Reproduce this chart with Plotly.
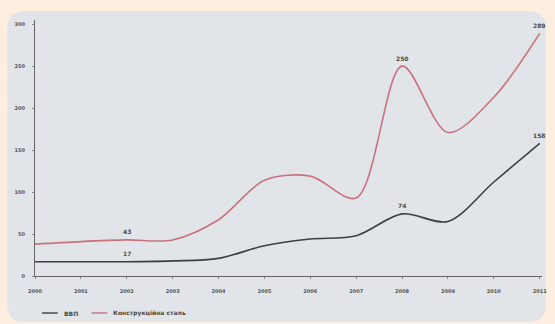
import plotly.graph_objects as go

years = [2000, 2001, 2002, 2003, 2004, 2005, 2006, 2007, 2008, 2009, 2010, 2011]
gdp = [17, 17, 17, 18, 21, 36, 44, 48, 74, 65, 112, 158]
steel = [38, 41, 43, 43, 67, 114, 119, 93, 250, 171, 213, 289]
y_ticks = [0, 50, 100, 150, 200, 250, 300]
labels_years = [2002, 2008, 2011]
gdp_name = "ВВП"
steel_name = "Конструкційна сталь"
gdp_color = "#3b3f48"
steel_color = "#c9717e"

W, H = 555, 324
L, R, T, B = 35, 8, 20, 48
pw, ph = W - L - R, H - T - B

def px(x):
    return (x - L) / pw

def py(y):
    return (H - B - y) / ph

fig = go.Figure()
fig.add_trace(go.Scatter(x=years, y=gdp, mode="lines", name=gdp_name,
                         line=dict(color=gdp_color, width=1.6, shape="spline", smoothing=0.9)))
fig.add_trace(go.Scatter(x=years, y=steel, mode="lines", name=steel_name,
                         line=dict(color=steel_color, width=1.6, shape="spline", smoothing=0.9)))

font = dict(size=6, color="#4a4a4a", family="DejaVu Sans", weight="bold")
ann = []
for yr in labels_years:
    i = years.index(yr)
    for arr in (gdp, steel):
        ann.append(dict(x=yr, y=arr[i], text=str(arr[i]), showarrow=False,
                        yshift=8, font=font))

# manual legend (compact line symbols)
leg_y = 313
shapes = []
legend_items = [(gdp_name, gdp_color, 42, 58, 62), (steel_name, steel_color, 92, 108, 112)]
for name, col, xa, xb, xt in legend_items:
    shapes.append(dict(type="line", xref="paper", yref="paper", x0=px(xa), x1=px(xb),
                       y0=py(leg_y), y1=py(leg_y), line=dict(color=col, width=1.4)))
    ann.append(dict(xref="paper", yref="paper", x=px(xt), y=py(leg_y), text=name,
                    showarrow=False, xanchor="left", yanchor="middle", font=font))

# rounded panel
r = 18
x0, x1, y0, y1 = 7, 551, 11, 322
path = (f"M {px(x0)},{py(y0 + r)} Q {px(x0)},{py(y0)} {px(x0 + r)},{py(y0)} "
        f"L {px(x1 - r)},{py(y0)} Q {px(x1)},{py(y0)} {px(x1)},{py(y0 + r)} "
        f"L {px(x1)},{py(y1 - r)} Q {px(x1)},{py(y1)} {px(x1 - r)},{py(y1)} "
        f"L {px(x0 + r)},{py(y1)} Q {px(x0)},{py(y1)} {px(x0)},{py(y1 - r)} Z")
shapes.insert(0, dict(type="path", path=path, xref="paper", yref="paper",
                      fillcolor="#e1e4e8", line=dict(width=0), layer="below"))

tickfont = dict(size=5, color="#555", family="DejaVu Sans", weight="bold")
fig.update_layout(
    width=W, height=H,
    margin=dict(l=L, r=R, t=T, b=B),
    paper_bgcolor="#fdeee0",
    plot_bgcolor="rgba(0,0,0,0)",
    shapes=shapes,
    annotations=ann,
    showlegend=False,
    xaxis=dict(range=[2000, 2011.05], tickvals=years, ticktext=[str(y) for y in years],
               showgrid=False, zeroline=False, showline=True, linecolor="#666", linewidth=1,
               ticks="outside", ticklen=2, tickcolor="#888", tickfont=tickfont,
               ticklabelstandoff=8),
    yaxis=dict(range=[0, 305], tickvals=y_ticks, showgrid=False, zeroline=False,
               showline=True, linecolor="#666", linewidth=1,
               ticks="outside", ticklen=2, tickcolor="#888", tickfont=tickfont,
               ticklabelstandoff=6),
)

fig.write_html("out.html")
